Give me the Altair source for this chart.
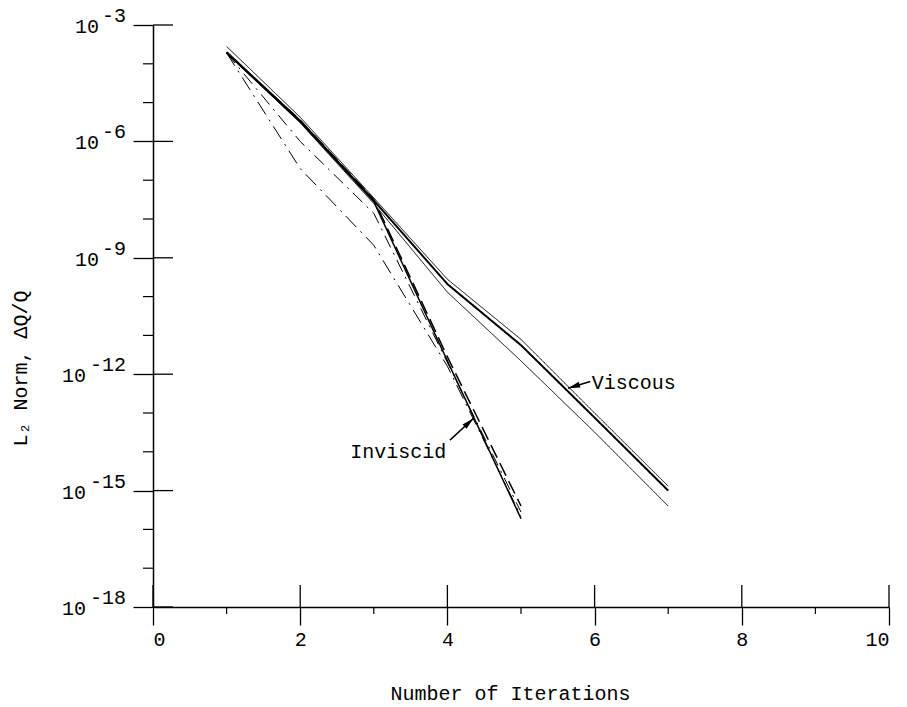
import altair as alt
import pandas as pd

# Convergence history: L2 norm of the update vs. iteration count
iterations_viscous = [1, 2, 3, 4, 5, 6, 7]
viscous_a = [2.8e-4, 4.2e-6, 3.5e-8, 2.8e-10, 7.9e-12, 1.0e-13, 1.3e-15]
viscous_b = [2.0e-4, 3.4e-6, 3.0e-8, 2.1e-10, 5.6e-12, 7.6e-14, 1.0e-15]
viscous_c = [1.9e-4, 3.0e-6, 2.5e-8, 1.3e-10, 2.2e-12, 3.2e-14, 4.0e-16]

iterations_inviscid = [1, 2, 3, 4, 5]
inviscid_solid = [1.9e-4, 3.2e-6, 2.8e-8, 2.2e-12, 1.9e-16]
inviscid_dash = [1.9e-4, 3.5e-6, 3.2e-8, 2.8e-12, 4.0e-16]
inviscid_dashdot_a = [1.9e-4, 1.0e-6, 1.4e-8, 2.0e-12, 2.8e-16]
inviscid_dashdot_b = [1.9e-4, 2.0e-7, 2.1e-9, 1.6e-12, 2.2e-16]

x_major = [0, 2, 4, 6, 8, 10]
x_minor = [1, 3, 5, 7, 9]
y_major_exp = [-3, -6, -9, -12, -15, -18]
y_minor_exp = [-4, -5, -7, -8, -10, -11, -13, -14, -16, -17]

FONT = "Liberation Mono"
W, H = 736, 582

# series name -> (iterations, values, dash pattern, stroke width)
series = {
    "viscous_a": (iterations_viscous, viscous_a, [1, 0], 1.0),
    "viscous_b": (iterations_viscous, viscous_b, [1, 0], 2.0),
    "viscous_c": (iterations_viscous, viscous_c, [1, 0], 1.0),
    "inviscid_solid": (iterations_inviscid, inviscid_solid, [1, 0], 1.5),
    "inviscid_dash": (iterations_inviscid, inviscid_dash, [14, 6], 1.5),
    "inviscid_dashdot_a": (iterations_inviscid, inviscid_dashdot_a, [13, 6, 2, 6], 1.0),
    "inviscid_dashdot_b": (iterations_inviscid, inviscid_dashdot_b, [15, 6, 2, 6], 1.0),
}

rows = []
for name, (its, vals, _, _) in series.items():
    for i, v in zip(its, vals):
        rows.append({"series": name, "iteration": i, "norm": v})
df = pd.DataFrame(rows)

xscale = alt.Scale(domain=[0, 10], nice=False, zero=False)
yscale = alt.Scale(type="log", domain=[1e-18, 1e-3], nice=False)

x_axis = alt.Axis(
    values=x_major, title="Number of Iterations", grid=False,
    labelFont=FONT, labelFontSize=20, labelColor="black", labelPadding=4,
    labelBaseline="top", tickSize=18, tickColor="black", tickWidth=1.3,
    domainColor="black", domainWidth=1.5,
    titleFont=FONT, titleFontSize=20, titleFontWeight="normal", titleColor="black",
    titleX=357, titleY=86, titleBaseline="middle", titleAlign="center",
)
y_axis = alt.Axis(
    values=[10.0 ** e for e in y_major_exp], labels=False, grid=False,
    title="L₂ Norm, ΔQ/Q", tickSize=20, tickColor="black", tickWidth=1.3,
    domainColor="black", domainWidth=1.5,
    titleFont=FONT, titleFontSize=20, titleFontWeight="normal", titleColor="black",
    titleX=-133, titleY=343, titleAngle=270, titleBaseline="middle", titleAlign="center",
)


def X(field):
    return alt.X(field, scale=xscale, axis=x_axis)


def Y(field):
    return alt.Y(field, scale=yscale, axis=y_axis)


layers = []
for name, (_, _, dash, width) in series.items():
    layers.append(
        alt.Chart(df).transform_filter(alt.datum.series == name)
        .mark_line(color="black", strokeDash=dash, strokeWidth=width, strokeJoin="round")
        .encode(x=X("iteration:Q"), y=Y("norm:Q"), order="iteration:Q")
    )

# Inner halves of major ticks and outward minor ticks
xt_major = pd.DataFrame({"t": x_major})
xt_minor = pd.DataFrame({"t": x_minor})
yt_major = pd.DataFrame({"v": [10.0 ** e for e in y_major_exp]})
yt_minor = pd.DataFrame({"v": [10.0 ** e for e in y_minor_exp]})

layers.append(alt.Chart(xt_major).mark_rule(color="black", strokeWidth=1.3).encode(
    x=X("t:Q"), y=alt.value(H - 22), y2=alt.value(H)))
layers.append(alt.Chart(xt_minor).mark_rule(color="black", strokeWidth=1.2).encode(
    x=X("t:Q"), y=alt.value(H), y2=alt.value(H + 7)))
layers.append(alt.Chart(yt_major).mark_rule(color="black", strokeWidth=1.3).encode(
    y=Y("v:Q"), x=alt.value(0), x2=alt.value(20)))
layers.append(alt.Chart(yt_minor).mark_rule(color="black", strokeWidth=1.2).encode(
    y=Y("v:Q"), x=alt.value(-10), x2=alt.value(0)))

# Power-of-ten tick labels: base "10" plus raised exponent
ylab = pd.DataFrame({
    "v": [10.0 ** e for e in y_major_exp],
    "exp": [str(e) for e in y_major_exp],
    "n": [len(str(e)) for e in y_major_exp],
})
layers.append(alt.Chart(ylab).mark_text(
    font=FONT, fontSize=20, align="right", baseline="middle", dy=-9, color="black"
).encode(y=Y("v:Q"), x=alt.value(-27), text="exp:N"))
for n, xpos in [(2, -54), (3, -67)]:
    layers.append(alt.Chart(ylab).transform_filter(alt.datum.n == n).mark_text(
        font=FONT, fontSize=20, align="right", baseline="middle", dy=2, color="black"
    ).encode(y=Y("v:Q"), x=alt.value(xpos), text=alt.value("10")))

# Curve annotations with arrows
labels = pd.DataFrame({
    "label": ["Viscous", "Inviscid"],
    "x": [5.96, 2.68],
    "y": [10 ** -12.23, 10 ** -14.0],
})
arrows = pd.DataFrame({
    "x0": [5.94, 4.035], "y0": [10 ** -12.19, 10 ** -13.70],
    "x1": [5.64, 4.352], "y1": [10 ** -12.36, 10 ** -13.14],
    "angle": [253, 47],
})
layers.append(alt.Chart(labels).mark_text(
    font=FONT, fontSize=20, align="left", baseline="middle", color="black"
).encode(x=X("x:Q"), y=Y("y:Q"), text="label:N"))
layers.append(alt.Chart(arrows).mark_rule(color="black", strokeWidth=1.5).encode(
    x=X("x0:Q"), y=Y("y0:Q"), x2="x1:Q", y2="y1:Q"))
layers.append(alt.Chart(arrows).mark_point(
    shape="M0,0L0.5,2L-0.5,2Z", filled=True, color="black", opacity=1, size=144
).encode(x=X("x1:Q"), y=Y("y1:Q"), angle=alt.Angle("angle:Q", scale=None)))

chart = alt.layer(*layers).properties(
    width=W, height=H,
    padding={"left": 153, "top": 25, "right": 18, "bottom": 100},
    autosize=alt.AutoSizeParams(type="none"),
    background="white",
).configure_view(stroke=None)

chart.save("out.html", embed_options={"renderer": "svg", "actions": False})
